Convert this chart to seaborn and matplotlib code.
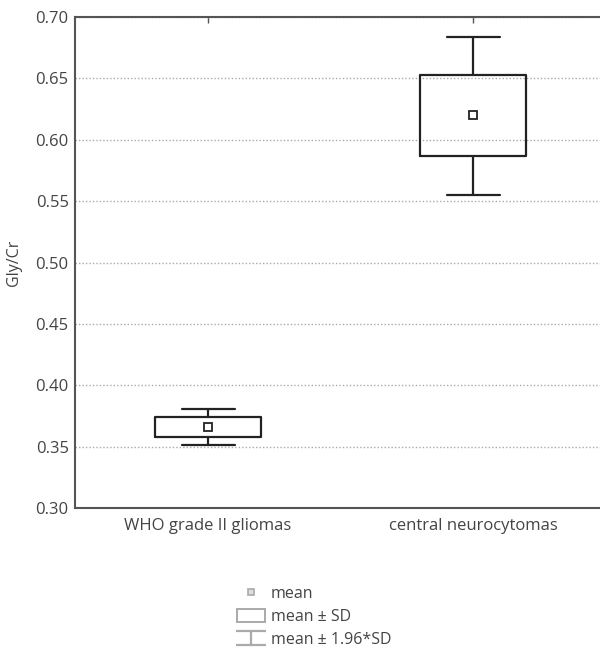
import matplotlib
matplotlib.use("Agg")
import matplotlib.pyplot as plt
from matplotlib.lines import Line2D
from matplotlib.patches import Rectangle
from matplotlib.path import Path
import pandas as pd
import seaborn as sns

groups = ["WHO grade II gliomas", "central neurocytomas"]
means = [0.366, 0.620]
sd_low = [0.358, 0.587]
sd_high = [0.374, 0.653]
ci_low = [0.351, 0.555]
ci_high = [0.381, 0.684]
yticks = [0.30, 0.35, 0.40, 0.45, 0.50, 0.55, 0.60, 0.65, 0.70]

# five points per group: whiskers = min/max, box = quartiles (index 1 and 3)
rows = []
for g, a, b, m, c, d in zip(groups, ci_low, sd_low, means, sd_high, ci_high):
    for v in (a, b, m, c, d):
        rows.append({"group": g, "value": v})
df = pd.DataFrame(rows)

sns.set_style("white")
plt.rcParams["font.family"] = ["Open Sans", "DejaVu Sans"]
txt = "#444444"

fig = plt.figure(figsize=(6, 6.5), dpi=100)
ax = fig.add_axes([0.125, 0.2185, 0.875, 0.7553])

sns.boxplot(data=df, x="group", y="value", order=groups, whis=(0, 100),
            width=0.4, fill=False, color="#222222", linewidth=1.6,
            medianprops={"linewidth": 0, "alpha": 0}, ax=ax)
sns.pointplot(x=groups, y=means, order=groups, linestyle="none", marker="s",
              color="#222222", markersize=6, markerfacecolor="white",
              markeredgewidth=1.3, errorbar=None, ax=ax)

ax.set_ylim(0.30, 0.70)
ax.set_xlim(-0.502, 1.479)
ax.set_yticks(yticks)
ax.set_yticklabels([f"{t:.2f}" for t in yticks])
ax.yaxis.grid(True, linestyle=(0, (1, 1.5)), color="#aaaaaa", linewidth=1)
ax.set_axisbelow(True)
ax.set_xlabel("")
ax.set_ylabel("Gly/Cr", color=txt, fontsize=11.5, labelpad=10)
ax.tick_params(axis="both", colors="#555555", labelcolor=txt, labelsize=12,
               direction="in", length=4, width=1)
ax.tick_params(axis="y", direction="inout", length=5, pad=2)
ax.tick_params(axis="x", top=True, pad=7)
for s in ["left", "bottom", "top"]:
    ax.spines[s].set_color("#555555")
    ax.spines[s].set_linewidth(1.5)
ax.spines["right"].set_visible(False)

ibeam = Path([(-1, 0.45), (1, 0.45), (0, 0.45), (0, -0.45), (-1, -0.45), (1, -0.45)],
             [Path.MOVETO, Path.LINETO, Path.MOVETO, Path.LINETO,
              Path.MOVETO, Path.LINETO])
handles = [
    Line2D([], [], linestyle="none", marker="s", markersize=5,
           markerfacecolor="#dddddd", markeredgecolor="#aaaaaa", markeredgewidth=1.2),
    Rectangle((0, 0), 1, 1, fill=False, edgecolor="#aaaaaa", linewidth=1.4),
    Line2D([], [], linestyle="none", marker=ibeam, markersize=22,
           markeredgecolor="#aaaaaa", markeredgewidth=1.6),
]
labels = ["mean", "mean \u00b1 SD", "mean \u00b1 1.96*SD"]
leg = fig.legend(handles, labels, loc="upper left", bbox_to_anchor=(0.395, 0.098),
                 frameon=False, fontsize=11.5, handlelength=1.75, handleheight=0.8,
                 handletextpad=0.35, labelspacing=0.42, borderaxespad=0, borderpad=0)
for t in leg.get_texts():
    t.set_color(txt)

fig.savefig("out.png", dpi=100)
